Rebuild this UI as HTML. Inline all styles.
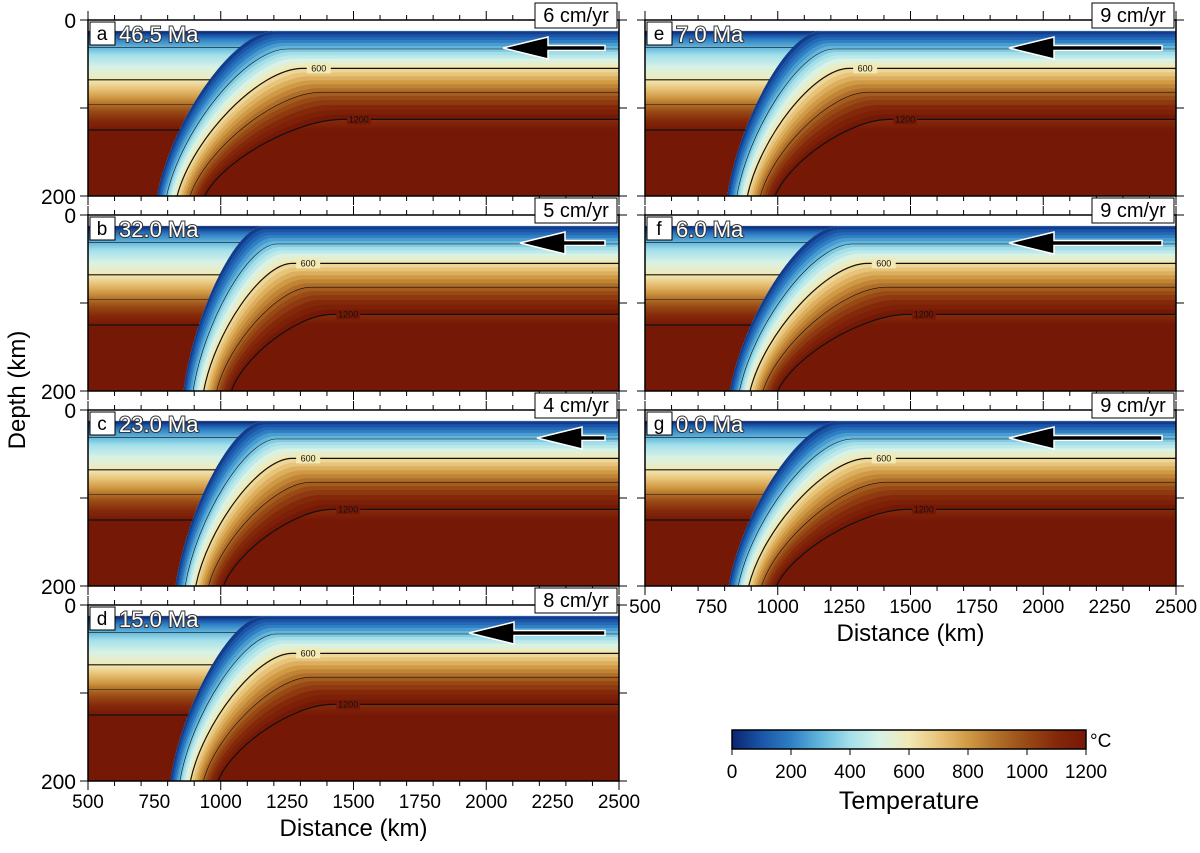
<!DOCTYPE html>
<html><head><meta charset="utf-8"><style>
body{margin:0;background:#fff;}
svg text{font-family:"Liberation Sans",sans-serif;}
</style></head><body>
<svg id="fig" width="1200" height="848" viewBox="0 0 1200 848" xmlns="http://www.w3.org/2000/svg">
<defs id="defs"></defs>
<g id="root"></g>
</svg>
<script>
// ---- data ----
const panelLetters = ['a','b','c','d','e','f','g'];
const panelAges = ['46.5 Ma','32.0 Ma','23.0 Ma','15.0 Ma','7.0 Ma','6.0 Ma','0.0 Ma'];
const panelSpeeds = [6,5,4,8,9,9,9];
const slabBendKm = [1200,1160,1160,1160,1160,1230,1230];
const slabBottomKm = [760,860,830,810,810,820,815];
const xTicks = [500,750,1000,1250,1500,1750,2000,2250,2500];
const yTicks = [0,200];
const cbTicks = [0,200,400,600,800,1000,1200];
const cmapT = [0,100,200,300,400,500,600,700,800,900,1000,1100,1200];
const cmapC = ['#0b2470','#1a55a8','#2f7fc4','#62b6dc','#a3e0ea','#d8f2e6','#f2e9b4','#e8c47a','#d09a45','#b06e28','#984a15','#84280a','#761806'];
const profT = [0,200,400,600,800,1000,1200];
const profD = [13,26,40,55,73,91,113];
const wedgeD = [13,22,40,68,88,104,125];

const NS='http://www.w3.org/2000/svg';
const root=document.getElementById('root'), defs=document.getElementById('defs');
function el(tag,attrs,parent){const e=document.createElementNS(NS,tag);for(const k in attrs)e.setAttribute(k,attrs[k]);(parent||root).appendChild(e);return e;}
function hex(c){return [1,3,5].map(i=>parseInt(c.substr(i,2),16));}
function color(T){T=Math.max(0,Math.min(1200,T));for(let i=0;i<cmapT.length-1;i++){if(T<=cmapT[i+1]){const f=(T-cmapT[i])/(cmapT[i+1]-cmapT[i]);const a=hex(cmapC[i]),b=hex(cmapC[i+1]);return 'rgb('+a.map((v,j)=>Math.round(v+(b[j]-v)*f)).join(',')+')';}}return cmapC[cmapC.length-1];}
function depthOf(T,prof){prof=prof||profD;for(let i=0;i<profT.length-1;i++){if(T<=profT[i+1]){return prof[i]+(prof[i+1]-prof[i])*(T-profT[i])/(profT[i+1]-profT[i]);}}return prof[prof.length-1];}

const g=el('linearGradient',{id:'vgrad',x1:0,y1:0,x2:0,y2:1},defs);
el('stop',{offset:0,'stop-color':'#ffffff'},g);
el('stop',{offset:(12/200).toFixed(3),'stop-color':'#ffffff'},g);
for(let T=0;T<=1200;T+=100){el('stop',{offset:(depthOf(T,wedgeD)/200).toFixed(3),'stop-color':color(T)},g);}
el('stop',{offset:1,'stop-color':color(1200)},g);

const geo=[[88,20],[88,215],[88,410],[88,605],[645,20],[645,215],[645,410]];
const PW=531, PH=176;

function curvePts(i,d){
  const off=d-13, bend=slabBendKm[i]+2.6*off, end=slabBottomKm[i]+1.8*off;
  const span=bend-end;
  return {p0:[2600,d],p1:[bend,d],c1:[bend-0.35*span,d],c2:[end+0.12*span,200-0.45*(200-d)],e:[end,200]};
}
function bez(c,t){const a=c.p1,b=c.c1,cc=c.c2,e=c.e,u=1-t;
  return [0,1].map(k=>u*u*u*a[k]+3*u*u*t*b[k]+3*u*t*t*cc[k]+t*t*t*e[k]);}
function xAtDepth(c,d){let best=c.e[0],bd=1e9;for(let t=0;t<=1;t+=0.005){const p=bez(c,t);const dd=Math.abs(p[1]-d);if(dd<bd){bd=dd;best=p[0];}}return best;}

for(let i=0;i<7;i++){
  const [X0,Y0]=geo[i];
  const sx=km=>X0+(km-500)/2000*PW, sy=d=>Y0+d/200*PH;
  const P=p=>sx(p[0]).toFixed(1)+','+sy(p[1]).toFixed(1);
  const pg=el('g',{});
  
  
  const cp=el('clipPath',{id:'clip'+i},defs);
  el('rect',{x:X0,y:Y0,width:PW,height:PH},cp);
  const fg=el('g',{'clip-path':'url(#clip'+i+')'},pg);
  el('rect',{x:X0,y:Y0,width:PW,height:PH,fill:'url(#vgrad)'},fg);
  const top=curvePts(i,13);
  const fwd=c=>'M'+P(c.p0)+' L'+P(c.p1)+' C'+P(c.c1)+' '+P(c.c2)+' '+P(c.e);
  for(let T=1200;T>=0;T-=50){
    const c=curvePts(i,depthOf(T));
    const d=fwd(top)+' L'+P(c.e)+' C'+P(c.c2)+' '+P(c.c1)+' '+P(c.p1)+' L'+P(c.p0)+' Z';
    const band=el('path',{d:d,fill:color(T)},fg);
    
    
  }
  [300,600,900,1200].forEach(T=>{
    const dd=depthOf(T), c=curvePts(i,dd);
    const w=(T%600===0)?1.2:0.6;
    el('path',{d:fwd(c),fill:'none',stroke:'#111','stroke-width':w},fg);
    const wd=depthOf(T,wedgeD);
    const xl=xAtDepth(top,wd);
    el('path',{d:'M'+P([480,wd])+' L'+P([xl,wd]),fill:'none',stroke:'#111','stroke-width':w},fg);
    if(T%600===0){
      const lx=sx(c.p1[0]+60), ly=sy(dd)+3;
      el('rect',{x:lx-12,y:ly-8,width:24,height:10,fill:color(T)},fg);
      const t=el('text',{x:lx,y:ly,'font-size':9,'text-anchor':'middle',fill:'#111'},fg);t.textContent=T;
    }
  });
  el('rect',{x:X0,y:Y0,width:PW,height:PH,fill:'none',stroke:'#000','stroke-width':1.5},pg);
  for(let km=500;km<=2500;km+=100){
    const x=sx(km), L=(km%250===0)?9:5;
    el('line',{x1:x,y1:Y0,x2:x,y2:Y0-L,stroke:'#000','stroke-width':1},pg);
    el('line',{x1:x,y1:Y0+PH,x2:x,y2:Y0+PH+L,stroke:'#000','stroke-width':1},pg);
  }
  [0,100,200].forEach(d=>{
    el('line',{x1:X0-8,y1:sy(d),x2:X0,y2:sy(d),stroke:'#000'},pg);
    el('line',{x1:X0+PW,y1:sy(d),x2:X0+PW+8,y2:sy(d),stroke:'#000'},pg);
  });
  if(i<4){
    yTicks.forEach(d=>{
      const t=el('text',{x:X0-12,y:sy(d)+8,'font-size':21,'text-anchor':'end'},pg);
      t.textContent=d;
      
      
    });
  }
  el('rect',{x:X0+2,y:Y0+2,width:25,height:23,fill:'#fff',stroke:'#000','stroke-width':1},pg);
  const lt=el('text',{x:X0+14,y:Y0+20,'font-size':19,'text-anchor':'middle'},pg);lt.textContent=panelLetters[i];
  const at=el('text',{x:X0+31,y:Y0+22,'font-size':22,fill:'#fff',stroke:'#333','stroke-width':2,'paint-order':'stroke'},pg);
  at.textContent=panelAges[i];
  
  
  const br=el('rect',{x:X0+PW-84,y:Y0-17,width:82,height:25,fill:'#fff',stroke:'#000'},pg);
  
  
  const st=el('text',{x:X0+PW-43,y:Y0+2,'font-size':20,'text-anchor':'middle'},pg);
  st.textContent=panelSpeeds[i]+' cm/yr';
  const ax2=X0+PW-14, len=panelSpeeds[i]*17, ay=Y0+28;
  const ar=el('path',{d:`M${ax2},${ay-2.5} L${ax2-len+45},${ay-2.5} L${ax2-len+45},${ay-11} L${ax2-len},${ay} L${ax2-len+45},${ay+11} L${ax2-len+45},${ay+2.5} L${ax2},${ay+2.5} Z`,fill:'#000',stroke:'#fff','stroke-width':1.5},pg);
  
  
  if(i===3||i===6){
    xTicks.forEach(km=>{
      const t=el('text',{x:sx(km),y:Y0+PH+27,'font-size':19,'text-anchor':'middle'},pg);
      t.textContent=km;
      
      
    });
    const xt=el('text',{x:X0+PW/2,y:Y0+PH+55,'font-size':24,'text-anchor':'middle'},pg);
    xt.textContent='Distance (km)';
    
    
  }
}
const yt=el('text',{x:0,y:0,'font-size':24,'text-anchor':'middle',transform:'translate(25,390) rotate(-90)'});
yt.textContent='Depth (km)';



const cg=el('linearGradient',{id:'cbgrad',x1:0,y1:0,x2:1,y2:0},defs);
for(let T=0;T<=1200;T+=100)el('stop',{offset:T/1200,'stop-color':color(T)},cg);
const cbx0=732,cbx1=1086,cby=730,cbh=19;
const cb=el('rect',{x:cbx0,y:cby,width:cbx1-cbx0,height:cbh,fill:'url(#cbgrad)',stroke:'#000','stroke-width':1.5});


cbTicks.forEach(T=>{
  const x=cbx0+(cbx1-cbx0)*T/1200;
  el('line',{x1:x,y1:cby+cbh,x2:x,y2:cby+cbh+6,stroke:'#000'});
  const t=el('text',{x:x,y:cby+cbh+29,'font-size':19,'text-anchor':'middle'});
  t.textContent=T;
  
  
});
const cu=el('text',{x:cbx1+4,y:cby+17,'font-size':19});cu.textContent='°C';
const ct=el('text',{x:(cbx0+cbx1)/2,y:cby+79,'font-size':25,'text-anchor':'middle'});
ct.textContent='Temperature';


</script>
</body></html>
